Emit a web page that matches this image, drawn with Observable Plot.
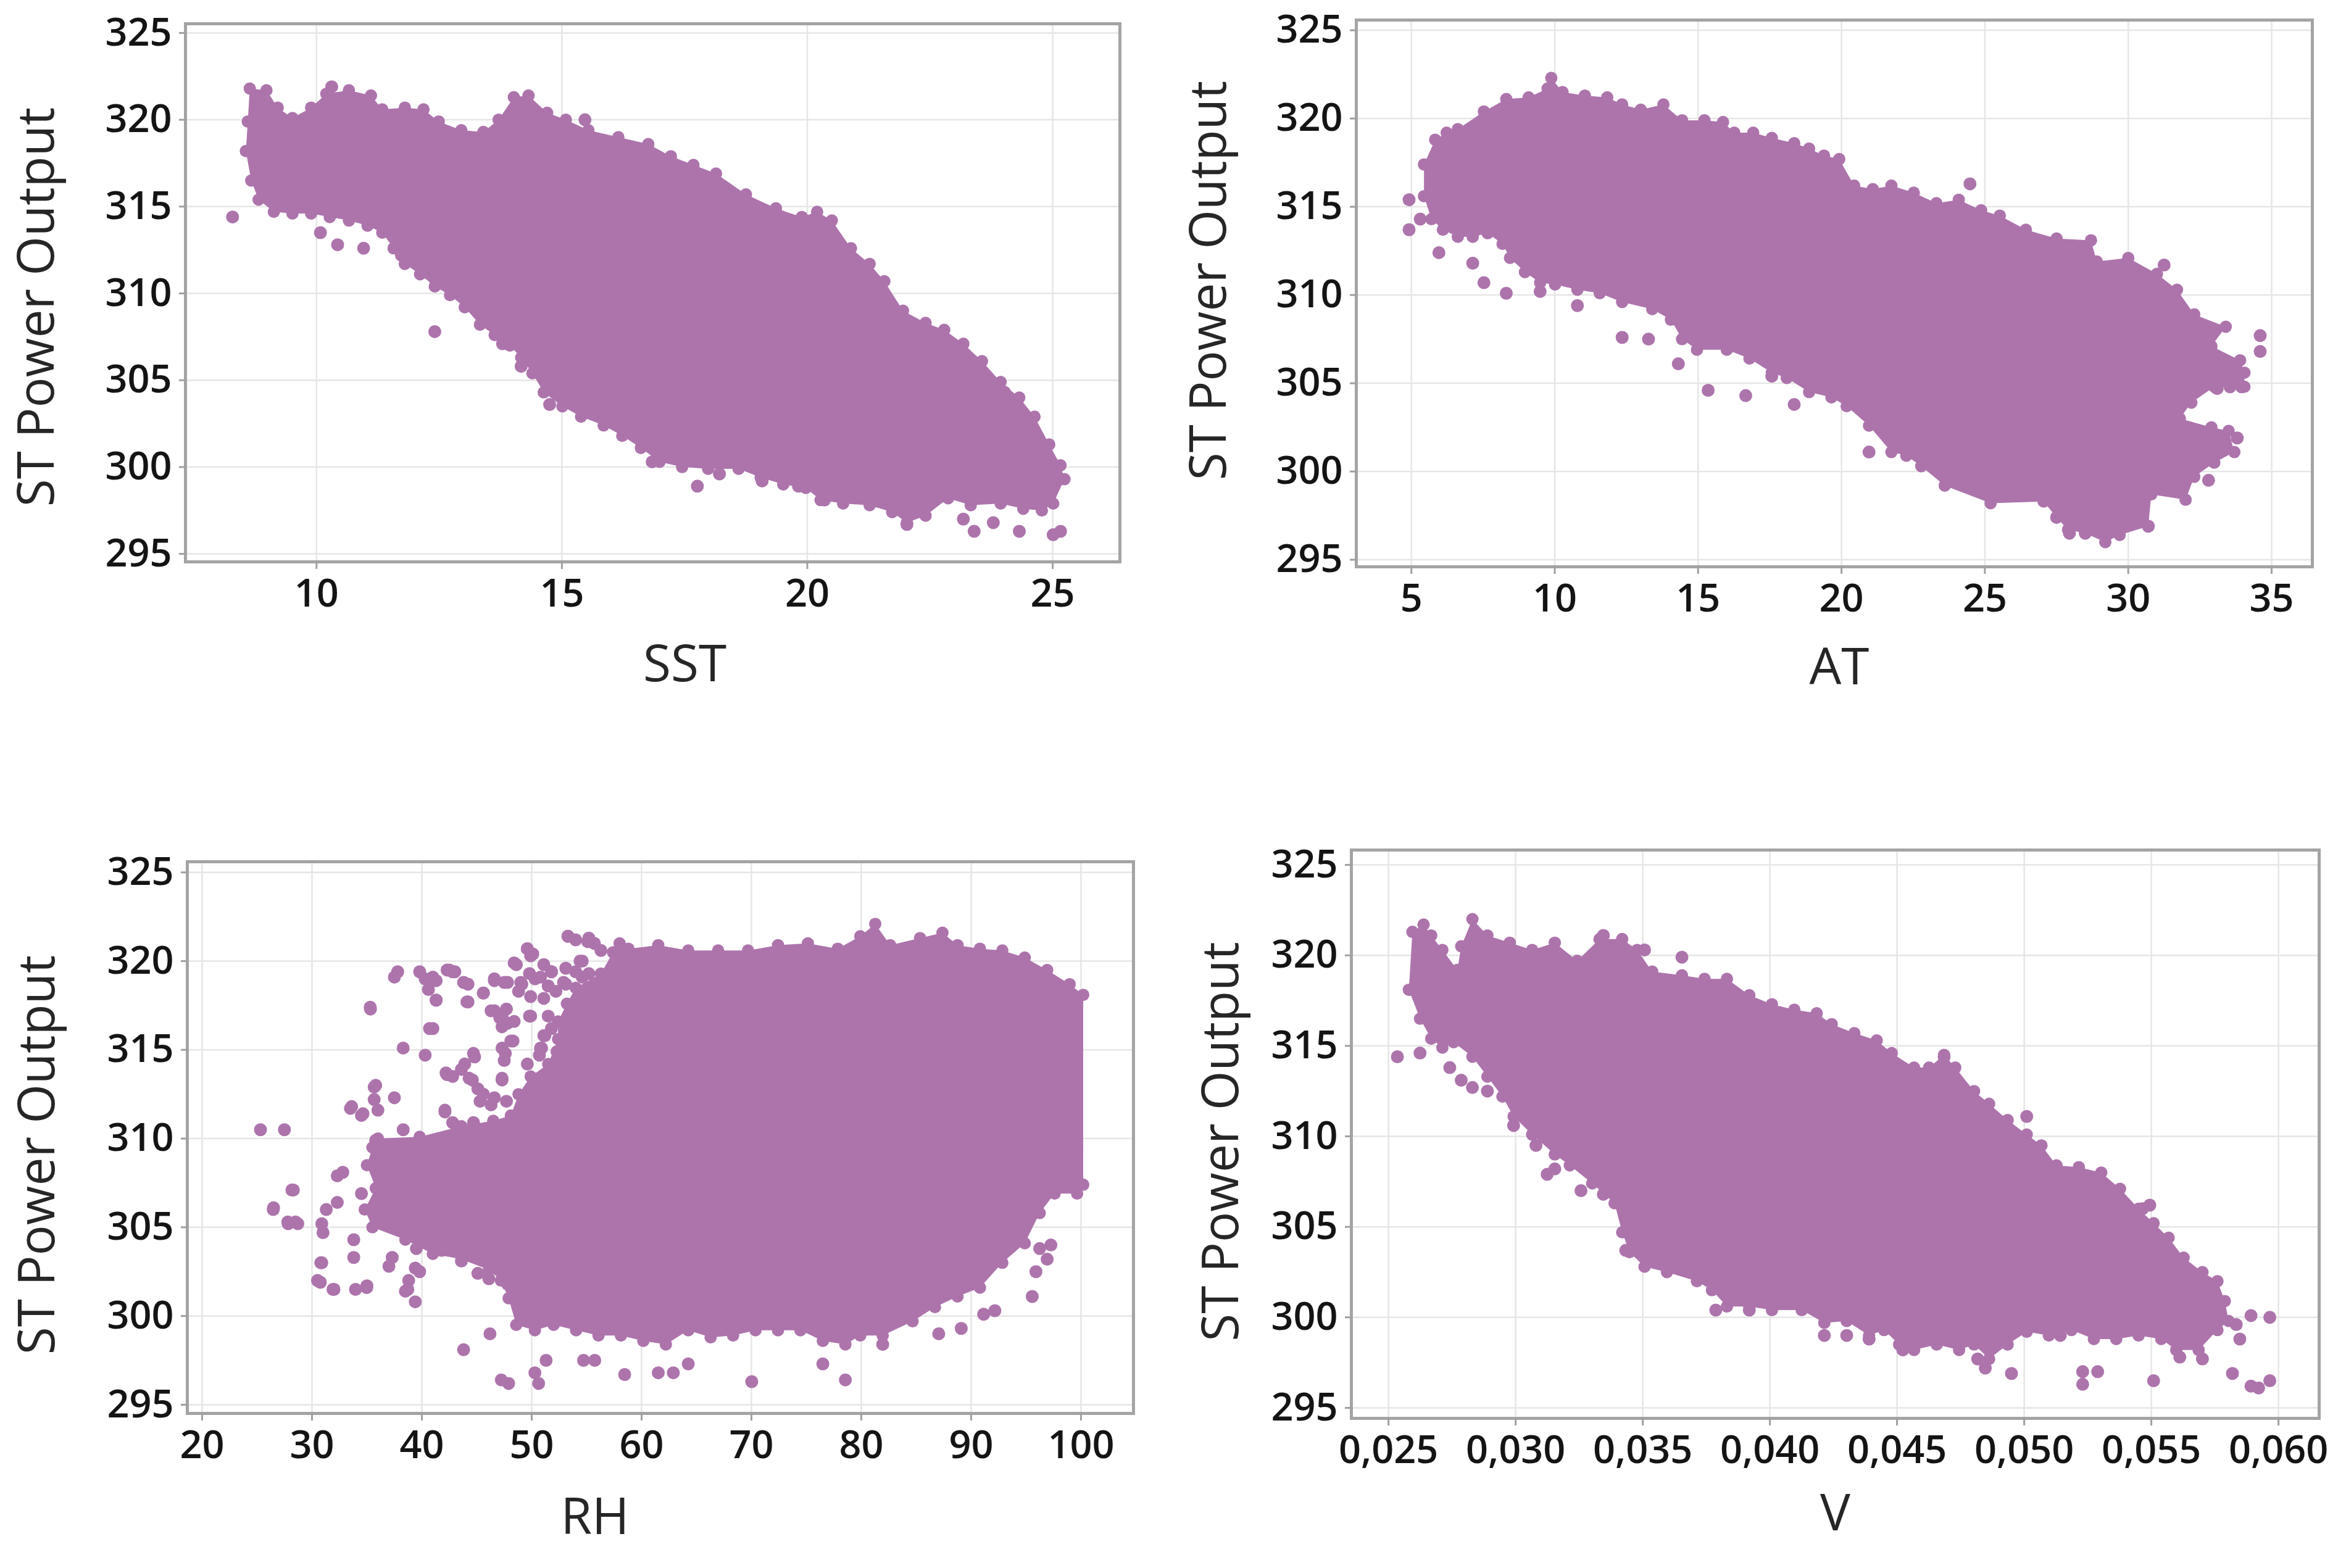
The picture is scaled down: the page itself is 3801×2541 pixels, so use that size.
<!DOCTYPE html>
<html><head><meta charset="utf-8">
<script src="https://cdn.jsdelivr.net/npm/d3@7"></script>
<script src="https://cdn.jsdelivr.net/npm/@observablehq/plot@0.6"></script>
<style>
html,body{margin:0;padding:0;background:#fff;}
#page{position:relative;width:3801px;height:2541px;overflow:hidden;background:#fff;}
.panel{position:absolute;}
</style></head><body><div id="page"></div>
<script>
// ---------- data ----------
const yTicks = [295, 300, 305, 310, 315, 320, 325];
const sstTicks = [10, 15, 20, 25];
const atTicks = [5, 10, 15, 20, 25, 30, 35];
const rhTicks = [20, 30, 40, 50, 60, 70, 80, 90, 100];
const vTicks = [0.025, 0.030, 0.035, 0.040, 0.045, 0.050, 0.055, 0.060];
const yTitle = "ST Power Output";

// outline of the dense point cloud (SST vs power)
const sstCloud = [[8.64,321.8],[8.98,321.7],[9.21,320.7],[9.51,320.1],[9.89,320.7],[10.20,321.5],[10.66,321.7],[11.11,321.4],[11.34,320.6],[11.80,320.7],[12.18,320.6],[12.49,319.9],[12.95,319.4],[13.40,319.3],[13.71,320.0],[14.02,321.3],[14.32,321.4],[14.70,320.4],[15.08,320.0],[15.54,319.4],[16.15,319.0],[16.76,318.6],[17.22,317.9],[17.68,317.4],[18.14,316.9],[18.75,315.7],[19.36,314.9],[19.89,314.4],[20.20,314.7],[20.50,314.2],[20.89,312.6],[21.27,311.7],[21.57,310.7],[21.95,309.0],[22.41,308.3],[22.79,307.9],[23.18,307.1],[23.56,306.1],[23.94,304.9],[24.32,304.0],[24.63,302.9],[24.93,301.3],[25.16,300.1],[25.24,299.3],[25.01,297.9],[24.78,297.5],[24.40,297.6],[23.94,297.9],[23.33,297.8],[22.87,298.2],[22.41,297.2],[22.03,296.8],[21.73,297.4],[21.27,297.8],[20.73,297.9],[20.27,298.1],[19.97,298.8],[19.51,299.0],[19.05,299.4],[18.60,299.9],[17.98,299.9],[17.45,300.0],[16.99,300.3],[16.61,301.1],[16.23,301.8],[15.85,302.4],[15.39,302.9],[15.01,303.5],[14.63,304.3],[14.40,305.4],[14.17,306.3],[13.94,307.0],[13.63,307.6],[13.33,308.2],[13.02,309.2],[12.72,309.9],[12.41,310.4],[12.11,311.1],[11.80,311.7],[11.57,312.6],[11.34,313.5],[11.04,313.9],[10.66,314.2],[10.27,314.4],[9.89,314.6],[9.51,314.6],[9.13,314.7],[8.82,315.4],[8.67,316.5],[8.56,318.2],[8.60,319.9]];
// isolated points outside the dense cloud
const sstPoints = [[8.29,314.4],[10.08,313.5],[10.43,312.8],[10.96,312.6],[11.73,312.2],[12.41,307.8],[13.79,307.1],[14.17,305.8],[14.75,303.6],[16.64,301.3],[16.84,300.3],[17.76,298.9],[18.21,299.6],[19.08,299.2],[19.82,298.9],[20.35,298.1],[22.03,296.7],[23.18,297.0],[23.40,296.3],[23.79,296.8],[24.32,296.3],[25.16,296.3],[25.01,296.1],[15.47,320.0],[10.31,321.9],[18.14,316.4],[18.21,316.0],[19.36,314.0],[24.02,304.3]];

const atCloud = [[5.44,315.6],[5.44,317.4],[5.83,318.8],[6.23,319.2],[6.62,319.4],[7.53,320.4],[8.31,321.1],[9.09,321.2],[9.75,321.7],[9.88,322.3],[10.27,321.5],[11.05,321.3],[11.83,321.2],[12.35,320.8],[13.0,320.5],[13.79,320.8],[14.44,319.9],[15.22,319.9],[15.87,319.8],[16.26,319.2],[16.92,319.2],[17.57,318.9],[18.35,318.6],[18.87,318.3],[19.39,317.9],[19.92,317.7],[20.44,316.2],[21.09,316.0],[21.74,316.2],[22.52,315.8],[23.31,315.2],[24.09,315.4],[24.87,314.8],[25.52,314.5],[26.43,313.7],[27.5,313.2],[28.7,313.1],[28.9,311.9],[30.0,312.1],[31.0,311.2],[31.7,310.3],[32.3,308.9],[33.4,308.2],[32.9,307.1],[33.9,306.3],[34.05,305.6],[34.05,304.8],[33.0,304.8],[32.2,303.9],[31.8,303.0],[32.9,302.5],[33.5,302.3],[33.7,301.1],[33.0,300.5],[32.3,299.7],[32.0,298.4],[30.8,298.7],[30.7,296.9],[29.7,296.4],[29.2,296.0],[28.5,296.5],[27.9,296.7],[27.5,297.4],[27.05,298.3],[25.2,298.2],[23.6,299.2],[22.78,300.3],[22.26,300.9],[21.74,301.1],[20.96,302.6],[20.18,303.7],[19.65,304.2],[18.87,304.5],[18.09,305.3],[17.57,305.6],[16.79,306.4],[16.0,306.9],[14.96,306.9],[14.44,307.5],[14.05,308.6],[13.40,309.2],[12.35,309.6],[11.57,310.1],[10.79,310.3],[10.01,310.6],[9.49,310.7],[8.96,311.3],[8.44,312.1],[8.18,312.9],[7.66,313.5],[7.14,313.3],[6.62,313.3],[6.10,313.7],[5.70,314.3]];
const atPoints = [[4.92,315.4],[4.92,313.7],[5.31,314.3],[5.96,312.4],[7.14,311.8],[7.53,310.7],[8.31,310.1],[9.49,310.2],[10.79,309.4],[12.35,307.6],[13.27,307.5],[14.31,306.1],[15.35,304.6],[16.66,304.3],[17.57,305.4],[18.35,303.8],[20.96,301.1],[24.48,316.3],[31.25,311.7],[34.6,307.7],[34.6,306.8],[32.8,299.5],[33.8,301.9],[30.7,296.9],[27.5,297.4],[27.95,296.5],[28.5,296.5],[33.1,304.7],[33.55,304.8],[33.95,304.8]];

const rhCloud = [[35.5,309.5],[36.0,310.0],[39.8,310.1],[43.6,310.7],[46.5,311.0],[48.1,311.3],[48.8,312.5],[49.9,313.5],[51.5,314.2],[52.4,315.6],[52.4,316.6],[53.2,317.6],[54.0,318.5],[56.3,319.3],[57.4,320.5],[58.0,321.0],[58.80,320.7],[61.52,320.9],[64.25,320.6],[66.97,320.6],[69.69,320.6],[72.42,320.9],[75.14,321.0],[77.86,320.7],[79.91,321.4],[81.27,322.1],[82.63,320.9],[85.35,321.3],[87.39,321.6],[88.76,320.9],[90.80,320.7],[92.84,320.6],[94.88,320.2],[96.92,319.5],[98.97,318.7],[100.2,318.1],[100.2,307.4],[99.65,306.9],[97.6,306.9],[96.24,305.8],[94.88,304.1],[92.84,303.0],[90.80,301.6],[88.76,301.1],[86.71,300.5],[84.67,299.7],[81.95,298.9],[79.91,298.9],[78.55,298.4],[76.50,298.6],[74.46,299.2],[72.42,299.2],[70.37,299.2],[68.33,298.9],[66.29,298.8],[64.25,299.2],[62.21,298.4],[60.16,298.6],[58.12,298.9],[56.08,298.9],[54.04,299.2],[52.0,299.5],[50.29,299.2],[48.59,299.5],[47.9,301.0],[47.2,302.0],[46.1,302.6],[43.6,303.2],[41.0,303.5],[38.5,304.3],[35.5,305.0],[34.8,306.0],[35.8,307.2],[35.0,308.5]];
const rhPoints = [[25.31,310.5],[27.49,310.5],[26.47,306.0],[28.17,307.1],[27.83,305.2],[28.71,305.2],[30.89,305.2],[30.89,303.0],[30.76,301.9],[31.91,301.5],[33.96,301.5],[34.98,301.6],[33.61,311.8],[34.64,311.4],[35.32,317.3],[35.66,312.9],[35.66,312.2],[37.8,319.4],[37.5,319.1],[39.8,319.4],[40.3,319.0],[40.6,318.4],[41.3,317.8],[42.3,319.5],[42.8,319.4],[43.8,318.8],[44.1,317.7],[45.6,318.2],[46.6,319.0],[47.8,318.8],[48.6,319.8],[49.6,320.7],[50.1,320.4],[49.1,318.7],[50.8,319.1],[51.8,319.4],[53.3,321.4],[55.1,321.1],[54.4,320.0],[54.6,319.1],[53.1,318.7],[35.3,317.4],[40.7,316.2],[38.3,315.1],[40.3,314.7],[46.3,317.2],[47.3,316.9],[47.8,316.5],[49.8,316.9],[48.3,315.5],[47.6,314.8],[51.1,315.8],[52.3,314.9],[50.8,315.1],[44.8,314.6],[43.6,313.9],[42.3,313.6],[44.6,313.3],[45.6,312.5],[47.3,313.3],[46.3,311.9],[42.1,311.6],[35.8,313.0],[37.5,312.3],[33.5,311.7],[34.5,311.3],[36.0,311.6],[38.3,310.5],[35.8,309.9],[32.8,308.1],[32.3,307.9],[28.3,307.1],[26.5,306.1],[27.8,305.3],[28.5,305.3],[31.0,304.7],[31.3,306.0],[32.3,306.4],[33.8,303.3],[33.8,304.3],[34.5,306.9],[30.8,303.0],[30.5,302.0],[32.0,301.5],[35.0,301.7],[37.3,303.3],[37.0,302.8],[38.8,302.0],[39.8,302.5],[38.5,301.4],[41.8,303.7],[42.6,304.0],[43.6,303.1],[45.1,302.4],[46.1,302.1],[47.8,301.8],[39.5,303.8],[39.40,302.7],[38.72,301.5],[39.40,300.8],[43.8,298.1],[46.2,299.0],[47.23,296.4],[47.9,296.2],[50.29,296.8],[50.63,296.2],[51.31,297.5],[54.72,297.5],[55.74,297.5],[58.46,296.7],[61.52,296.8],[62.89,296.8],[64.25,297.3],[70.03,296.3],[76.5,297.3],[78.55,296.4],[81.95,298.4],[87.05,299.0],[89.1,299.3],[91.14,300.1],[92.16,300.3],[95.56,301.1],[95.9,302.5],[96.24,303.8],[96.92,303.2],[97.26,304.0],
  [53.3,321.4],[54.0,321.2],[55.2,321.3],[55.7,321.0],[56.3,320.6],[54.6,320.0],[53.1,319.6],[54.0,319.4],[55.2,319.3],[52.9,318.8],[51.8,319.4],[51.5,318.6],[51.1,319.8],[49.6,320.7],[49.9,320.3],[48.4,319.9],[49.8,319.3],[50.3,319.0],[49.0,318.8],[46.6,318.9],[47.5,318.8],[48.8,318.3],[49.9,318.0],[51.1,317.9],[52.2,318.3],[42.5,319.5],[43.0,319.4],[44.2,318.7],[45.6,318.2],[41.3,318.9],[41.3,317.8],[44.2,317.7],[46.6,317.2],[47.7,317.3],[47.1,316.8],[48.4,316.6],[49.9,316.9],[47.3,316.3],[51.5,316.9],[51.8,316.2],[51.2,315.8],[48.1,315.5],[47.3,315.1],[47.5,314.4],[50.9,315.1],[50.7,314.7],[52.4,314.9],[49.6,314.2],[44.7,314.8],[43.9,314.2],[42.2,313.7],[42.8,313.5],[44.3,313.4],[45.1,312.8],[47.3,313.4],[45.3,312.1],[46.6,312.3],[47.7,312.1],[42.1,311.5],[42.8,310.9],[44.7,310.9],[41.0,319.1],[41.0,316.2]];

const vCloud = [[0.02594,321.3],[0.02638,321.7],[0.02668,321.1],[0.02712,320.3],[0.02771,319.2],[0.02786,320.5],[0.0283,322.0],[0.02889,321.1],[0.02977,320.7],[0.03065,320.3],[0.03154,320.7],[0.03242,319.7],[0.0333,320.9],[0.03419,320.9],[0.03478,320.3],[0.03537,319.1],[0.03654,318.9],[0.03743,318.7],[0.03831,318.7],[0.03919,317.8],[0.04008,317.3],[0.04096,317.0],[0.04184,316.8],[0.04243,316.2],[0.04332,315.7],[0.0442,315.3],[0.04479,314.6],[0.04567,313.8],[0.04626,313.8],[0.04685,314.5],[0.04729,313.8],[0.04803,312.5],[0.04862,311.8],[0.04935,310.9],[0.0501,310.1],[0.05068,309.5],[0.05127,308.4],[0.05215,308.3],[0.05303,308.0],[0.05377,307.1],[0.0545,306.0],[0.05509,305.2],[0.05568,304.4],[0.05627,303.3],[0.05701,302.5],[0.0576,302.0],[0.05789,300.9],[0.05804,299.8],[0.0576,299.3],[0.05686,298.2],[0.05598,298.2],[0.05539,298.8],[0.0545,299.0],[0.05362,298.8],[0.05274,298.8],[0.05186,299.3],[0.05097,299.0],[0.0501,299.2],[0.04935,298.5],[0.04862,297.7],[0.04803,298.5],[0.04744,298.2],[0.04656,298.5],[0.04567,298.2],[0.04508,298.5],[0.04449,299.3],[0.0439,299.0],[0.04302,299.8],[0.04214,299.7],[0.04125,300.4],[0.04008,300.4],[0.03919,300.6],[0.03831,300.6],[0.03772,301.5],[0.03713,302.0],[0.03595,302.5],[0.03507,302.8],[0.03448,303.6],[0.03419,304.7],[0.03389,306.3],[0.03301,307.4],[0.03213,308.4],[0.03154,309.0],[0.03065,310.1],[0.02992,311.1],[0.02948,312.2],[0.02889,313.3],[0.0283,314.4],[0.02756,315.2],[0.02712,314.9],[0.02668,315.4],[0.02624,316.5],[0.0258,318.1]];
const vPoints = [[0.02535,314.4],[0.02624,314.6],[0.02741,313.8],[0.02786,313.1],[0.0283,312.7],[0.02889,312.5],[0.02992,310.6],[0.0308,309.5],[0.03124,307.9],[0.03154,308.2],[0.03257,307.0],[0.03345,306.8],[0.03433,303.7],[0.03787,300.4],[0.03919,300.4],[0.04214,299.0],[0.04302,299.0],[0.0439,298.8],[0.04523,298.2],[0.04817,297.7],[0.04847,297.2],[0.0495,296.9],[0.05142,299.0],[0.0523,297.0],[0.0523,296.3],[0.05289,297.0],[0.05509,296.5],[0.05612,297.8],[0.05701,297.7],[0.05819,296.9],[0.05892,296.2],[0.05922,296.1],[0.05966,296.5],[0.05892,300.1],[0.05966,300.0],[0.05834,299.6],[0.05848,298.8],[0.05465,306.0],[0.05494,306.2],[0.0501,311.1],[0.0501,309.5],[0.04685,314.4],[0.03507,320.3],[0.03654,319.9],[0.03345,321.1]];

// ---------- layout & style ----------
const PURPLE = "#ad74ac";
const FONT = "'Open Sans', 'Noto Sans', sans-serif";
const panels = [
  {title: "SST", cloud: sstCloud, points: sstPoints, ticks: sstTicks, fmt: d => String(d),
   xDomain: [7.33, 26.37], yDomain: [294.54, 325.53], frame: {l: 300, t: 38, r: 1814, b: 910},
   xtDx: 52, xtDy: 193, ytDx: -240, ytDy: 23},
  {title: "AT", cloud: atCloud, points: atPoints, ticks: atTicks, fmt: d => String(d),
   xDomain: [3.08, 36.42], yDomain: [294.6, 325.58], frame: {l: 2197, t: 32, r: 3746, b: 918},
   xtDx: 8, xtDy: 190, ytDx: -238, ytDy: -21},
  {title: "RH", cloud: rhCloud, points: rhPoints, ticks: rhTicks, fmt: d => String(d),
   xDomain: [18.65, 104.78], yDomain: [294.51, 325.6], frame: {l: 303, t: 1396, r: 1836, b: 2290},
   xtDx: -106, xtDy: 195, ytDx: -242, ytDy: 28},
  {title: "V", cloud: vCloud, points: vPoints, ticks: vTicks, fmt: d => d3.format(".3f")(d).replace(".", ","),
   xDomain: [0.02354, 0.0616], yDomain: [294.42, 325.82], frame: {l: 2189, t: 1377, r: 3757, b: 2298},
   xtDx: 0, xtDy: 181, ytDx: -210, ytDy: 12}
];

const page = document.getElementById("page");
const mL = 310, mT = 20, mR = 30, mB = 235;
for (const p of panels) {
  const rows = a => a.map(([x, y]) => ({x, y}));
  const cloud = rows(p.cloud), pts = rows(p.points);
  const W = p.frame.r - p.frame.l + mL + mR;
  const H = p.frame.b - p.frame.t + mT + mB;
  const svg = Plot.plot({
    width: W, height: H,
    marginLeft: mL, marginTop: mT, marginRight: mR, marginBottom: mB,
    style: {background: "transparent", fontFamily: FONT, overflow: "visible"},
    x: {domain: p.xDomain},
    y: {domain: p.yDomain},
    marks: [
      Plot.gridX(p.ticks, {stroke: "#e6e6e6", strokeOpacity: 1, strokeWidth: 2.5}),
      Plot.gridY(yTicks, {stroke: "#e6e6e6", strokeOpacity: 1, strokeWidth: 2.5}),
      Plot.line(cloud, {x: "x", y: "y", curve: "linear-closed", fill: PURPLE, stroke: "none"}),
      Plot.dot(cloud, {x: "x", y: "y", r: 10, fill: PURPLE, stroke: "none"}),
      Plot.dot(pts, {x: "x", y: "y", r: 10.5, fill: PURPLE, stroke: "none"}),
      Plot.frame({stroke: "#a4a4a4", strokeWidth: 5}),
      Plot.axisX({ticks: p.ticks, tickFormat: p.fmt, tickSize: 12, tickPadding: 16, fontSize: 63,
                  fontWeight: 600, stroke: "#a0a0a0", strokeWidth: 3, fill: "#141414", label: null}),
      Plot.axisY({ticks: yTicks, tickSize: 10, tickPadding: 12, fontSize: 63,
                  fontWeight: 600, stroke: "#a0a0a0", strokeWidth: 3, fill: "#141414", label: null}),
      Plot.text([p.title], {frameAnchor: "bottom", dx: p.xtDx, dy: p.xtDy, fontSize: 82, fill: "#262626"}),
      Plot.text([yTitle], {frameAnchor: "left", textAnchor: "middle", rotate: -90, dx: p.ytDx, dy: p.ytDy,
                           fontSize: 82, fill: "#262626"})
    ]
  });
  svg.classList.add("panel");
  svg.style.left = (p.frame.l - mL) + "px";
  svg.style.top = (p.frame.t - mT) + "px";
  page.appendChild(svg);
}
</script>
</body></html>
